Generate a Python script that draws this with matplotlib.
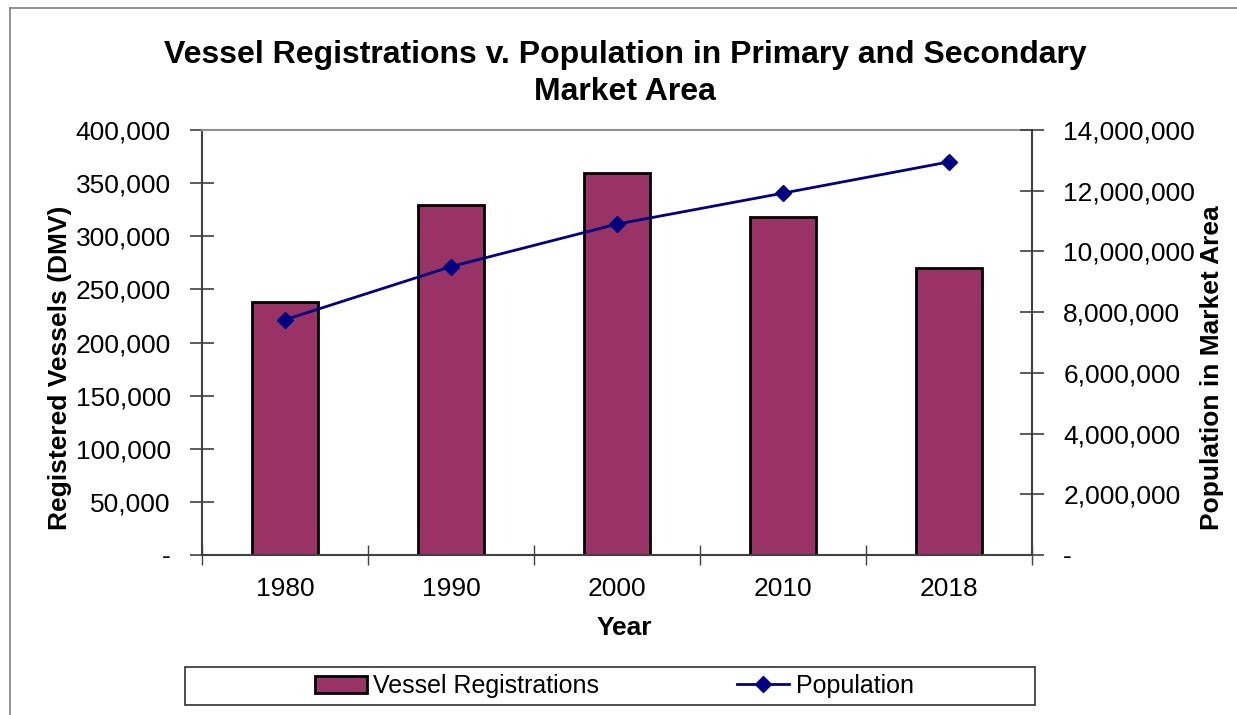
import matplotlib
matplotlib.use("Agg")
import matplotlib.pyplot as plt
from matplotlib.patches import Rectangle
from matplotlib.lines import Line2D
from matplotlib.ticker import FuncFormatter, MultipleLocator

plt.rcParams['font.family'] = ['Liberation Sans', 'DejaVu Sans']

# Data
years = ['1980', '1990', '2000', '2010', '2018']
vessels = [238000, 329000, 360000, 318000, 270000]
population = [7750000, 9500000, 10900000, 11920000, 12950000]

bar_color = '#993366'
line_color = '#000080'


def dash_zero(v, pos):
    if abs(v) < 1e-9:
        return '-'
    return '{:,.0f}'.format(v)


W, H = 1237, 715
fig = plt.figure(figsize=(W / 100, H / 100), dpi=100)

# outer chart border (top and left visible)
fig.add_artist(Line2D([10 / W, 1.0], [1 - 8 / H, 1 - 8 / H], transform=fig.transFigure,
                      color='#808080', lw=1.2))
fig.add_artist(Line2D([10 / W, 10 / W], [0, 1 - 8 / H], transform=fig.transFigure,
                      color='#808080', lw=1.2))

ax = fig.add_axes([202 / W, 1 - 555 / H, 830 / W, 425 / H])
x = list(range(len(years)))
ax.bar(x, vessels, width=0.4, color=bar_color, edgecolor='black', linewidth=2, zorder=2)
ax.set_xlim(-0.5, len(years) - 0.5)
ax.set_ylim(0, 400000)
ax.yaxis.set_major_locator(MultipleLocator(50000))
ax.yaxis.set_major_formatter(FuncFormatter(dash_zero))

ax.set_xticks(x)
ax.set_xticklabels(years)
ax.set_xticks([i - 0.5 for i in range(len(years) + 1)], minor=True)
ax.tick_params(axis='x', which='major', length=0, labelsize=19, pad=16)
ax.tick_params(axis='x', which='minor', direction='inout', length=15, width=1, color='#404040')
ax.tick_params(axis='y', direction='inout', length=17, width=1.2, color='#404040',
               labelsize=19, pad=14)

for side in ['left', 'bottom']:
    ax.spines[side].set_color('#404040')
    ax.spines[side].set_linewidth(1.5)
ax.spines['top'].set_color('#909090')
ax.spines['top'].set_linewidth(1.5)
ax.spines['right'].set_visible(False)

ax2 = ax.twinx()
ax2.plot(x, population, color=line_color, lw=2, marker='D', markersize=8,
         markerfacecolor=line_color, markeredgecolor=line_color, zorder=3)
ax2.set_ylim(0, 14000000)
ax2.yaxis.set_major_locator(MultipleLocator(2000000))
ax2.yaxis.set_major_formatter(FuncFormatter(dash_zero))
ax2.tick_params(axis='y', direction='inout', length=17, width=1.2, color='#404040',
                labelsize=19, pad=14)
ax2.spines['right'].set_color('#404040')
ax2.spines['right'].set_linewidth(1.5)
for side in ['left', 'bottom', 'top']:
    ax2.spines[side].set_visible(False)

# titles and axis labels
fig.text(625 / W, 1 - 55 / H, 'Vessel Registrations v. Population in Primary and Secondary',
         ha='center', va='center', fontsize=23, fontweight='bold')
fig.text(625 / W, 1 - 92 / H, 'Market Area', ha='center', va='center',
         fontsize=23, fontweight='bold')
fig.text(60 / W, 1 - 368 / H, 'Registered Vessels (DMV)', rotation=90, ha='center',
         va='center', fontsize=19, fontweight='bold')
fig.text(1212 / W, 1 - 368 / H, 'Population in Market Area', rotation=90, ha='center',
         va='center', fontsize=19, fontweight='bold')
fig.text(624 / W, 1 - 628 / H, 'Year', ha='center', va='center',
         fontsize=19, fontweight='bold')

# legend with its own box
fig.add_artist(Rectangle((185 / W, 1 - 705 / H), 850 / W, 38 / H, transform=fig.transFigure,
                         fill=False, edgecolor='#303030', lw=1.2))
handles = [Rectangle((0, 0), 1, 1, facecolor=bar_color, edgecolor='black', lw=2),
           Line2D([0], [0], color=line_color, lw=2, marker='D', markersize=8)]
fig.legend(handles, ['Vessel Registrations', 'Population'], loc='center',
           bbox_to_anchor=(614 / W, 1 - 686 / H), ncol=2, frameon=False, fontsize=18,
           handlelength=2.1, handletextpad=0.25, columnspacing=5.5, borderpad=0.2)

fig.savefig('out.png', dpi=100)
